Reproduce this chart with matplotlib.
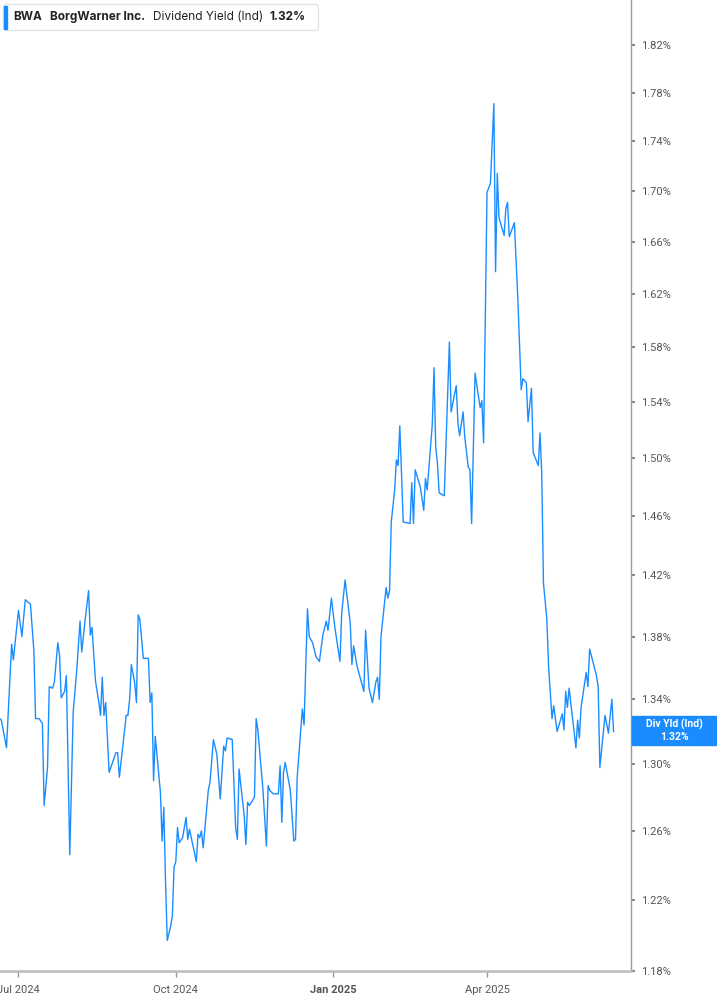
"""BorgWarner (BWA) dividend yield, one year."""

import numpy as np
import matplotlib
matplotlib.use("Agg")
import matplotlib.pyplot as plt
import matplotlib.dates as mdates
from matplotlib.patches import FancyBboxPatch, Rectangle
from matplotlib.ticker import NullLocator, NullFormatter


START = "2024-07-01"

# days after START
DAYS = [
    -11, -10, -7, -4, -3, 0, 2, 4, 7, 9,
    10, 12, 14, 15, 17, 18, 20, 21, 23, 24,
    25, 27, 28, 30, 32, 34, 36, 37, 39, 41,
    42, 43, 45, 47, 48, 49, 50, 51, 53, 55,
    57, 58, 59, 61, 63, 64, 65, 66, 68, 69,
    70, 71, 73, 76, 77, 78, 79, 80, 83, 84,
    85, 86, 87, 89, 90, 91, 92, 93, 94, 96,
    98, 99, 100, 104, 105, 106, 107, 108, 111, 112,
    114, 116, 118, 120, 121, 122, 125, 127, 128, 129,
    132, 133, 134, 135, 138, 139, 140, 143, 145, 146,
    147, 149, 152, 153, 154, 155, 156, 159, 161, 162,
    163, 166, 167, 169, 170, 172, 174, 176, 178, 180,
    181, 183, 185, 188, 189, 191, 194, 195, 196, 198,
    202, 203, 205, 207, 209, 210, 211, 212, 215, 216,
    217, 218, 220, 221, 222, 223, 225, 229, 230, 231,
    232, 235, 237, 238, 239, 242, 243, 244, 245, 246,
    249, 252, 253, 256, 257, 258, 260, 261, 263, 264,
    265, 267, 270, 271, 272, 274, 276, 278, 279, 280,
    281, 284, 285, 286, 287, 290, 292, 294, 295, 297,
    298, 300, 301, 304, 305, 306, 307, 309, 310, 312,
    313, 315, 318, 319, 320, 321, 322, 326, 327, 328,
    329, 332, 333, 334, 338, 339, 340, 343, 345, 347,
    348,
]

# dividend yield (%)
YIELD = [
    1.328, 1.327, 1.310, 1.375, 1.365, 1.397, 1.380, 1.404, 1.401, 1.371,
    1.328, 1.328, 1.325, 1.275, 1.298, 1.348, 1.347, 1.351, 1.376, 1.368,
    1.341, 1.345, 1.355, 1.246, 1.332, 1.357, 1.390, 1.370, 1.391, 1.410,
    1.381, 1.386, 1.352, 1.338, 1.330, 1.354, 1.330, 1.338, 1.295, 1.301,
    1.307, 1.307, 1.292, 1.311, 1.330, 1.330, 1.340, 1.362, 1.350, 1.338,
    1.394, 1.391, 1.366, 1.366, 1.338, 1.344, 1.290, 1.317, 1.283, 1.254,
    1.274, 1.230, 1.197, 1.205, 1.211, 1.239, 1.242, 1.262, 1.253, 1.256,
    1.268, 1.255, 1.261, 1.242, 1.258, 1.256, 1.260, 1.250, 1.284, 1.289,
    1.315, 1.306, 1.279, 1.311, 1.308, 1.316, 1.315, 1.262, 1.255, 1.297,
    1.269, 1.252, 1.277, 1.275, 1.280, 1.328, 1.321, 1.284, 1.251, 1.287,
    1.284, 1.282, 1.282, 1.299, 1.265, 1.295, 1.301, 1.284, 1.254, 1.255,
    1.292, 1.334, 1.324, 1.398, 1.380, 1.376, 1.367, 1.364, 1.381, 1.390,
    1.384, 1.405, 1.386, 1.364, 1.395, 1.417, 1.389, 1.362, 1.374, 1.361,
    1.345, 1.384, 1.347, 1.338, 1.351, 1.354, 1.340, 1.380, 1.412, 1.405,
    1.410, 1.456, 1.478, 1.499, 1.495, 1.523, 1.456, 1.455, 1.483, 1.455,
    1.492, 1.480, 1.464, 1.486, 1.478, 1.524, 1.565, 1.508, 1.497, 1.476,
    1.474, 1.584, 1.533, 1.552, 1.525, 1.516, 1.533, 1.515, 1.494, 1.492,
    1.455, 1.561, 1.536, 1.541, 1.511, 1.699, 1.706, 1.771, 1.637, 1.714,
    1.679, 1.665, 1.686, 1.691, 1.664, 1.675, 1.617, 1.549, 1.557, 1.554,
    1.526, 1.550, 1.504, 1.495, 1.518, 1.490, 1.415, 1.391, 1.361, 1.328,
    1.336, 1.320, 1.331, 1.321, 1.345, 1.335, 1.347, 1.310, 1.327, 1.316,
    1.335, 1.357, 1.348, 1.372, 1.355, 1.348, 1.298, 1.330, 1.319, 1.340,
    1.320,
]

X_TICK_DATES = ["2024-07-01", "2024-10-01", "2025-01-01", "2025-04-01"]
X_TICK_LABELS = ["Jul 2024", "Oct 2024", "Jan 2025", "Apr 2025"]
Y_TICKS = [1.18, 1.22, 1.26, 1.30, 1.34, 1.38, 1.42, 1.46, 1.50,
           1.54, 1.58, 1.62, 1.66, 1.70, 1.74, 1.78, 1.82]

LAST_VALUE = 1.32
LINE_COLOR = "#1a8cff"
W, H = 717, 1005


def main():
    fig = plt.figure(figsize=(W / 100, H / 100), dpi=100)
    ax = fig.add_axes([0, 34 / H, 631 / W, 971 / H])

    dates = np.datetime64(START) + np.array(DAYS)
    ax.plot(dates, YIELD, color=LINE_COLOR, lw=1.0)

    ax.set_yscale("log")
    ax.set_ylim(1.18, 1.859)
    start = mdates.date2num(np.datetime64(START))
    ax.set_xlim(start - 10.8, start + 358.2)

    ax.yaxis.tick_right()
    ax.set_yticks(Y_TICKS)
    ax.set_yticklabels([f"{v:.2f}%" for v in Y_TICKS])
    ax.yaxis.set_minor_locator(NullLocator())
    ax.yaxis.set_minor_formatter(NullFormatter())

    ax.set_xticks([mdates.date2num(np.datetime64(d)) for d in X_TICK_DATES])
    ax.set_xticklabels(X_TICK_LABELS)
    ax.xaxis.set_minor_locator(NullLocator())
    for lab in ax.get_xticklabels():
        lab.set_fontfamily("Roboto")
        if lab.get_text().startswith("Jan"):
            lab.set_fontweight("bold")
            lab.set_fontsize(9.5)
    for lab in ax.get_yticklabels():
        lab.set_fontfamily("Roboto")

    ax.tick_params(axis="y", direction="out", length=3, width=1.5, color="#888888",
                   labelsize=8, labelcolor="#555555", pad=4)
    ax.tick_params(axis="x", direction="out", length=4, width=1, color="#999999",
                   labelsize=8, labelcolor="#555555", pad=6)

    for side in ("left", "top"):
        ax.spines[side].set_visible(False)
    ax.spines["right"].set_color("#999999")
    ax.spines["right"].set_linewidth(1)
    ax.spines["bottom"].set_color("#bbbbbb")
    ax.spines["bottom"].set_linewidth(1.8)

    # overlay in pixel coordinates for the header and the last-value tag
    ov = fig.add_axes([0, 0, 1, 1])
    ov.set_xlim(0, W)
    ov.set_ylim(H, 0)
    ov.axis("off")
    ov.patch.set_alpha(0)

    ov.add_patch(FancyBboxPatch((3.5, 4.5), 315, 26, boxstyle="round,pad=0,rounding_size=3",
                                fc="white", ec="#e3e3e3", lw=1))
    ov.add_patch(Rectangle((4, 6), 3, 23, color=LINE_COLOR))
    head = dict(va="center", ha="left", fontsize=8.5, color="#222222", fontfamily="Inter")
    ov.text(13, 17, "BWA", fontweight="bold", **head)
    ov.text(50, 17, "BorgWarner Inc.", fontweight="bold", **head)
    ov.text(153, 17, "Dividend Yield (Ind)", **head)
    ov.text(270, 17, f"{LAST_VALUE:.2f}%", fontweight="bold", **head)

    ov.add_patch(Rectangle((632, 716), 85, 29, color=LINE_COLOR))
    tag = dict(ha="center", va="center", color="white", fontsize=7.5,
               fontweight="bold", fontfamily="Roboto")
    ov.text(674.5, 724, "Div Yld (Ind)", **tag)
    ov.text(674.5, 737, f"{LAST_VALUE:.2f}%", **tag)

    fig.savefig("out.png", dpi=100)
    plt.close(fig)


if __name__ == "__main__":
    main()
